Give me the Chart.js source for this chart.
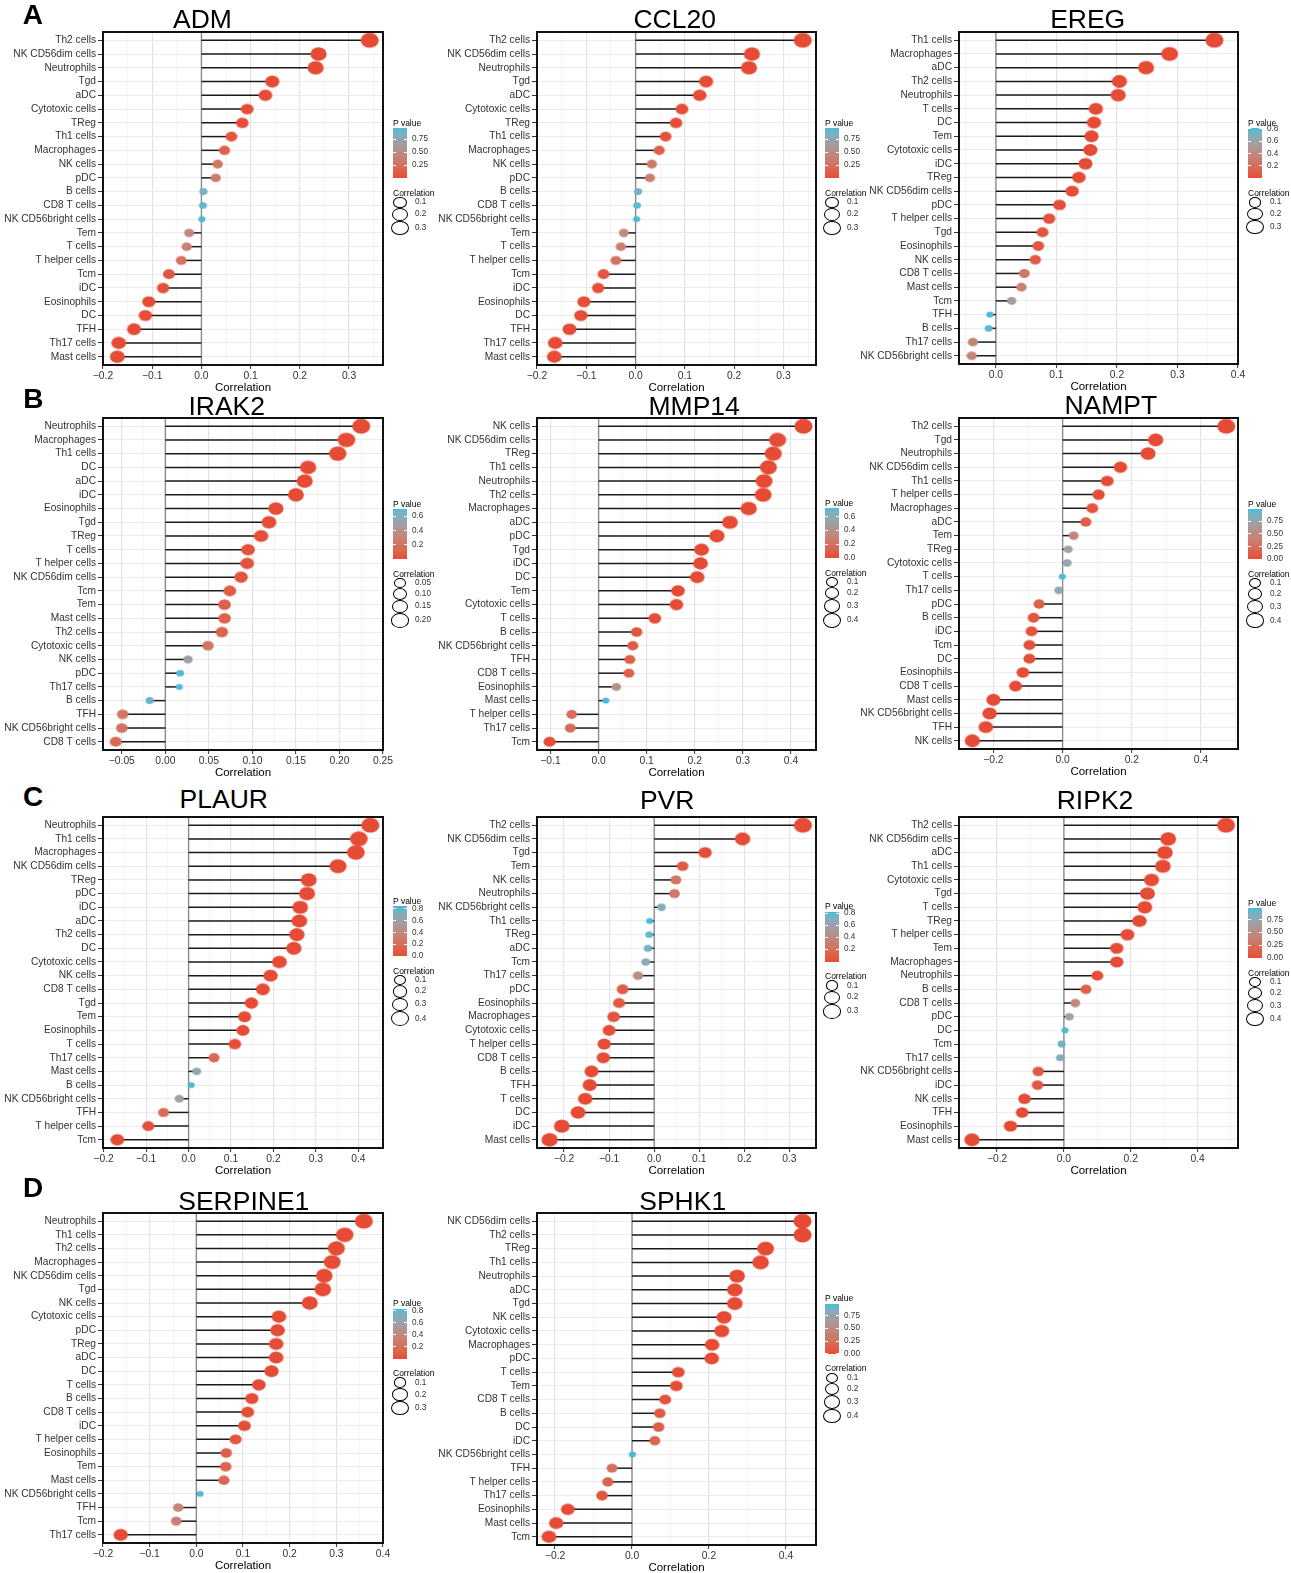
<!DOCTYPE html>
<html>
<head>
<meta charset="utf-8">
<script src="https://cdn.jsdelivr.net/npm/chart.js@4.4.1/dist/chart.umd.min.js"></script>
<style>
  body { margin: 0; background: #fff; }
  #fig { position: relative; width: 1291px; height: 1573px; overflow: hidden; font-family: 'Liberation Sans', Arial, Helvetica, sans-serif; }
  .t { position: absolute; line-height: 1; white-space: nowrap; }
</style>
</head>
<body>
<div id="fig"></div>
<script>
// ---- data: cell types (top to bottom), correlation, p value, axis ticks ----
const admCells = ['Th2 cells', 'NK CD56dim cells', 'Neutrophils', 'Tgd', 'aDC', 'Cytotoxic cells', 'TReg', 'Th1 cells', 'Macrophages', 'NK cells', 'pDC', 'B cells', 'CD8 T cells', 'NK CD56bright cells', 'Tem', 'T cells', 'T helper cells', 'Tcm', 'iDC', 'Eosinophils', 'DC', 'TFH', 'Th17 cells', 'Mast cells'];
const admCorr = [0.342, 0.238, 0.232, 0.144, 0.130, 0.093, 0.083, 0.061, 0.047, 0.033, 0.029, 0.004, 0.003, 0.001, -0.025, -0.030, -0.041, -0.066, -0.078, -0.107, -0.114, -0.137, -0.168, -0.171];
const admP = [0, 0, 0, 0.0001, 0.0005, 0.004, 0.01, 0.05, 0.13, 0.3, 0.36, 0.88, 0.92, 0.96, 0.45, 0.38, 0.27, 0.07, 0.04, 0.006, 0.004, 0.0008, 0, 0];

const ccl20Cells = admCells;
const ccl20Corr = [0.339, 0.236, 0.230, 0.143, 0.130, 0.094, 0.082, 0.061, 0.048, 0.033, 0.029, 0.005, 0.003, 0.002, -0.024, -0.030, -0.040, -0.065, -0.076, -0.105, -0.111, -0.134, -0.163, -0.165];
const ccl20P = [0, 0, 0, 0.0001, 0.0005, 0.004, 0.01, 0.05, 0.12, 0.3, 0.36, 0.87, 0.92, 0.96, 0.46, 0.38, 0.28, 0.07, 0.04, 0.006, 0.004, 0.0008, 0, 0];

const eregCells = ['Th1 cells', 'Macrophages', 'aDC', 'Th2 cells', 'Neutrophils', 'T cells', 'DC', 'Tem', 'Cytotoxic cells', 'iDC', 'TReg', 'NK CD56dim cells', 'pDC', 'T helper cells', 'Tgd', 'Eosinophils', 'NK cells', 'CD8 T cells', 'Mast cells', 'Tcm', 'TFH', 'B cells', 'Th17 cells', 'NK CD56bright cells'];
const eregCorr = [0.361, 0.287, 0.248, 0.204, 0.202, 0.165, 0.162, 0.158, 0.156, 0.148, 0.137, 0.126, 0.105, 0.088, 0.077, 0.070, 0.065, 0.047, 0.042, 0.026, -0.010, -0.012, -0.038, -0.040];
const eregP = [0, 0, 0, 0, 0, 0.0002, 0.0003, 0.0004, 0.0005, 0.001, 0.002, 0.005, 0.02, 0.04, 0.05, 0.07, 0.09, 0.26, 0.31, 0.55, 0.81, 0.79, 0.36, 0.34];

const irak2Cells = ['Neutrophils', 'Macrophages', 'Th1 cells', 'DC', 'aDC', 'iDC', 'Eosinophils', 'Tgd', 'TReg', 'T cells', 'T helper cells', 'NK CD56dim cells', 'Tcm', 'Tem', 'Mast cells', 'Th2 cells', 'Cytotoxic cells', 'NK cells', 'pDC', 'Th17 cells', 'B cells', 'TFH', 'NK CD56bright cells', 'CD8 T cells'];
const irak2Corr = [0.225, 0.208, 0.198, 0.164, 0.160, 0.150, 0.127, 0.119, 0.110, 0.095, 0.094, 0.087, 0.074, 0.068, 0.068, 0.065, 0.049, 0.026, 0.017, 0.016, -0.018, -0.049, -0.050, -0.057];
const irak2P = [0, 0, 0, 0.0002, 0.0003, 0.0006, 0.004, 0.007, 0.012, 0.03, 0.03, 0.045, 0.08, 0.1, 0.1, 0.11, 0.21, 0.5, 0.69, 0.70, 0.66, 0.21, 0.2, 0.15];

const mmp14Cells = ['NK cells', 'NK CD56dim cells', 'TReg', 'Th1 cells', 'Neutrophils', 'Th2 cells', 'Macrophages', 'aDC', 'pDC', 'Tgd', 'iDC', 'DC', 'Tem', 'Cytotoxic cells', 'T cells', 'B cells', 'NK CD56bright cells', 'TFH', 'CD8 T cells', 'Eosinophils', 'Mast cells', 'T helper cells', 'Th17 cells', 'Tcm'];
const mmp14Corr = [0.426, 0.372, 0.363, 0.353, 0.344, 0.342, 0.312, 0.273, 0.246, 0.214, 0.212, 0.205, 0.165, 0.162, 0.117, 0.079, 0.071, 0.065, 0.063, 0.037, 0.015, -0.056, -0.059, -0.102];
const mmp14P = [0, 0, 0, 0, 0, 0, 0, 0, 0, 0, 0, 0, 0.0002, 0.0003, 0.007, 0.05, 0.08, 0.09, 0.09, 0.4, 0.72, 0.17, 0.16, 0.01];

const namptCells = ['Th2 cells', 'Tgd', 'Neutrophils', 'NK CD56dim cells', 'Th1 cells', 'T helper cells', 'Macrophages', 'aDC', 'Tem', 'TReg', 'Cytotoxic cells', 'T cells', 'Th17 cells', 'pDC', 'B cells', 'iDC', 'Tcm', 'DC', 'Eosinophils', 'CD8 T cells', 'Mast cells', 'NK CD56bright cells', 'TFH', 'NK cells'];
const namptCorr = [0.473, 0.269, 0.247, 0.167, 0.129, 0.104, 0.086, 0.067, 0.032, 0.016, 0.013, -0.001, -0.011, -0.068, -0.084, -0.090, -0.096, -0.096, -0.115, -0.136, -0.200, -0.211, -0.222, -0.261];
const namptP = [0, 0, 0, 0, 0.003, 0.02, 0.05, 0.12, 0.45, 0.72, 0.77, 0.99, 0.81, 0.13, 0.06, 0.04, 0.03, 0.03, 0.01, 0.002, 0, 0, 0, 0];

const plaurCells = ['Neutrophils', 'Th1 cells', 'Macrophages', 'NK CD56dim cells', 'TReg', 'pDC', 'iDC', 'aDC', 'Th2 cells', 'DC', 'Cytotoxic cells', 'NK cells', 'CD8 T cells', 'Tgd', 'Tem', 'Eosinophils', 'T cells', 'Th17 cells', 'Mast cells', 'B cells', 'NK CD56bright cells', 'TFH', 'T helper cells', 'Tcm'];
const plaurCorr = [0.428, 0.401, 0.394, 0.352, 0.283, 0.279, 0.263, 0.261, 0.255, 0.248, 0.214, 0.193, 0.175, 0.148, 0.132, 0.128, 0.109, 0.060, 0.019, 0.006, -0.022, -0.059, -0.095, -0.168];
const plaurP = [0, 0, 0, 0, 0, 0, 0, 0, 0, 0, 0, 0, 0, 0.0005, 0.002, 0.003, 0.01, 0.17, 0.66, 0.845, 0.62, 0.18, 0.03, 0];

const pvrCells = ['Th2 cells', 'NK CD56dim cells', 'Tgd', 'Tem', 'NK cells', 'Neutrophils', 'NK CD56bright cells', 'Th1 cells', 'TReg', 'aDC', 'Tcm', 'Th17 cells', 'pDC', 'Eosinophils', 'Macrophages', 'Cytotoxic cells', 'T helper cells', 'CD8 T cells', 'B cells', 'TFH', 'T cells', 'DC', 'iDC', 'Mast cells'];
const pvrCorr = [0.330, 0.196, 0.113, 0.063, 0.048, 0.045, 0.016, -0.010, -0.011, -0.014, -0.019, -0.036, -0.070, -0.078, -0.090, -0.100, -0.111, -0.113, -0.139, -0.143, -0.153, -0.169, -0.205, -0.232];
const pvrP = [0, 0, 0.009, 0.08, 0.25, 0.27, 0.7, 0.83, 0.8, 0.75, 0.67, 0.42, 0.1, 0.07, 0.04, 0.02, 0.01, 0.01, 0.001, 0.001, 0.0005, 0.0001, 0, 0];

const ripk2Cells = ['Th2 cells', 'NK CD56dim cells', 'aDC', 'Th1 cells', 'Cytotoxic cells', 'Tgd', 'T cells', 'TReg', 'T helper cells', 'Tem', 'Macrophages', 'Neutrophils', 'B cells', 'CD8 T cells', 'pDC', 'DC', 'Tcm', 'Th17 cells', 'NK CD56bright cells', 'iDC', 'NK cells', 'TFH', 'Eosinophils', 'Mast cells'];
const ripk2Corr = [0.485, 0.312, 0.302, 0.296, 0.262, 0.250, 0.242, 0.226, 0.190, 0.158, 0.158, 0.100, 0.066, 0.034, 0.016, 0.003, -0.007, -0.011, -0.077, -0.079, -0.118, -0.125, -0.160, -0.275];
const ripk2P = [0, 0, 0, 0, 0, 0, 0, 0, 0, 0.0003, 0.0003, 0.02, 0.13, 0.45, 0.72, 0.97, 0.86, 0.8, 0.08, 0.08, 0.008, 0.005, 0.0003, 0];

const serpine1Cells = ['Neutrophils', 'Th1 cells', 'Th2 cells', 'Macrophages', 'NK CD56dim cells', 'Tgd', 'NK cells', 'Cytotoxic cells', 'pDC', 'TReg', 'aDC', 'DC', 'T cells', 'B cells', 'CD8 T cells', 'iDC', 'T helper cells', 'Eosinophils', 'Tem', 'Mast cells', 'NK CD56bright cells', 'TFH', 'Tcm', 'Th17 cells'];
const serpine1Corr = [0.359, 0.318, 0.300, 0.291, 0.274, 0.271, 0.243, 0.177, 0.174, 0.171, 0.171, 0.161, 0.134, 0.119, 0.110, 0.103, 0.084, 0.064, 0.063, 0.059, 0.008, -0.039, -0.043, -0.162];
const serpine1P = [0, 0, 0, 0, 0, 0, 0, 0, 0, 0, 0, 0, 0.002, 0.007, 0.012, 0.02, 0.06, 0.12, 0.13, 0.15, 0.83, 0.36, 0.32, 0];

const sphk1Cells = ['NK CD56dim cells', 'Th2 cells', 'TReg', 'Th1 cells', 'Neutrophils', 'aDC', 'Tgd', 'NK cells', 'Cytotoxic cells', 'Macrophages', 'pDC', 'T cells', 'Tem', 'CD8 T cells', 'B cells', 'DC', 'iDC', 'NK CD56bright cells', 'TFH', 'T helper cells', 'Th17 cells', 'Eosinophils', 'Mast cells', 'Tcm'];
const sphk1Corr = [0.443, 0.443, 0.347, 0.334, 0.273, 0.267, 0.267, 0.239, 0.233, 0.208, 0.207, 0.120, 0.115, 0.086, 0.072, 0.069, 0.059, 0.001, -0.052, -0.063, -0.078, -0.167, -0.197, -0.216];
const sphk1P = [0, 0, 0, 0, 0, 0, 0, 0, 0, 0, 0, 0.007, 0.009, 0.05, 0.1, 0.12, 0.17, 0.98, 0.25, 0.16, 0.08, 0, 0, 0];

// x axis breaks, P value colourbar breaks, size legend breaks
const ticksA = [-0.2, -0.1, 0, 0.1, 0.2, 0.3];
const ticksEreg = [0, 0.1, 0.2, 0.3, 0.4];
const ticksIrak2 = [-0.05, 0, 0.05, 0.1, 0.15, 0.2, 0.25];
const ticksMmp14 = [-0.1, 0, 0.1, 0.2, 0.3, 0.4];
const ticksWide = [-0.2, 0, 0.2, 0.4];
const ticksB = [-0.2, -0.1, 0, 0.1, 0.2, 0.3, 0.4];
const pBreaksQuarter = [0.25, 0.5, 0.75];
const pBreaksQuarter0 = [0, 0.25, 0.5, 0.75];
const pBreaksFifth = [0.2, 0.4, 0.6, 0.8];
const pBreaksFifth0 = [0, 0.2, 0.4, 0.6, 0.8];
const pBreaksIrak2 = [0.2, 0.4, 0.6];
const pBreaksMmp14 = [0, 0.2, 0.4, 0.6];
const sizeBreaks3 = [0.1, 0.2, 0.3];
const sizeBreaks4 = [0.1, 0.2, 0.3, 0.4];
const sizeBreaksIrak2 = [0.05, 0.1, 0.15, 0.2];

const panels = [
  { gene: 'ADM', cells: admCells, corr: admCorr, p: admP, ticks: ticksA, pBreaks: pBreaksQuarter, sizeBreaks: sizeBreaks3 },
  { gene: 'CCL20', cells: ccl20Cells, corr: ccl20Corr, p: ccl20P, ticks: ticksA, pBreaks: pBreaksQuarter, sizeBreaks: sizeBreaks3 },
  { gene: 'EREG', cells: eregCells, corr: eregCorr, p: eregP, ticks: ticksEreg, pBreaks: pBreaksFifth, sizeBreaks: sizeBreaks3 },
  { gene: 'IRAK2', cells: irak2Cells, corr: irak2Corr, p: irak2P, ticks: ticksIrak2, pBreaks: pBreaksIrak2, sizeBreaks: sizeBreaksIrak2 },
  { gene: 'MMP14', cells: mmp14Cells, corr: mmp14Corr, p: mmp14P, ticks: ticksMmp14, pBreaks: pBreaksMmp14, sizeBreaks: sizeBreaks4 },
  { gene: 'NAMPT', cells: namptCells, corr: namptCorr, p: namptP, ticks: ticksWide, pBreaks: pBreaksQuarter0, sizeBreaks: sizeBreaks4 },
  { gene: 'PLAUR', cells: plaurCells, corr: plaurCorr, p: plaurP, ticks: ticksB, pBreaks: pBreaksFifth0, sizeBreaks: sizeBreaks4 },
  { gene: 'PVR', cells: pvrCells, corr: pvrCorr, p: pvrP, ticks: ticksA, pBreaks: pBreaksFifth, sizeBreaks: sizeBreaks3 },
  { gene: 'RIPK2', cells: ripk2Cells, corr: ripk2Corr, p: ripk2P, ticks: ticksWide, pBreaks: pBreaksQuarter0, sizeBreaks: sizeBreaks4 },
  { gene: 'SERPINE1', cells: serpine1Cells, corr: serpine1Corr, p: serpine1P, ticks: ticksB, pBreaks: pBreaksFifth, sizeBreaks: sizeBreaks3 },
  { gene: 'SPHK1', cells: sphk1Cells, corr: sphk1Corr, p: sphk1P, ticks: ticksWide, pBreaks: pBreaksQuarter0, sizeBreaks: sizeBreaks4 }
];

// ---- layout (page pixels) ----
const layout = {
  ADM:      { box: [103, 32, 383, 365],    range: [-0.2, 0.369],    title: [202.5, 18.7],  legend: [393, 122.7] },
  CCL20:    { box: [537, 32, 816, 365],    range: [-0.2, 0.366],    title: [674.7, 18.7],  legend: [825, 122.7] },
  EREG:     { box: [959, 32, 1238, 364],   range: [-0.061, 0.4],    title: [1087.7, 19],   legend: [1248, 122.7] },
  IRAK2:    { box: [103, 418, 383, 750],   range: [-0.0716, 0.25],  title: [226.7, 405.8], legend: [393, 503.7] },
  MMP14:    { box: [537, 418, 816, 750],   range: [-0.128, 0.452],  title: [694.2, 405.8], legend: [825, 502.7] },
  NAMPT:    { box: [959, 418, 1238, 749],  range: [-0.2995, 0.507], title: [1110.8, 405],  legend: [1248, 503.7] },
  PLAUR:    { box: [103, 817, 383, 1148],  range: [-0.2016, 0.458], title: [223.8, 799.3], legend: [393, 900.7] },
  PVR:      { box: [537, 817, 816, 1148],  range: [-0.26, 0.359],   title: [667.2, 799.7], legend: [825, 906] },
  RIPK2:    { box: [959, 817, 1238, 1148], range: [-0.314, 0.521],  title: [1095, 799.7],  legend: [1248, 902.7] },
  SERPINE1: { box: [103, 1213, 383, 1543], range: [-0.2, 0.4],      title: [243.8, 1200.8], legend: [393, 1303.3] },
  SPHK1:    { box: [537, 1213, 816, 1545], range: [-0.247, 0.478],  title: [682.7, 1200.8], legend: [825, 1298.3] }
};
const letters = [['A', 22.7, 15], ['B', 23.3, 399], ['C', 23, 797], ['D', 23, 1187.5]];

const FONT = "'Liberation Sans', Arial, Helvetica, sans-serif";
const YW = 103, XH = 31, PT = 3, PR = 14;
const R0 = 3.3, R1 = 8.3, SX = 1.09, SY = 0.91;
const LOW = '#E64B35', HIGH = '#4DBBD5';
const fig = document.getElementById('fig');

// colour ramp in CIELAB like ggplot's gradient
function toLab(hex) {
  const c = [1, 3, 5].map((i) => parseInt(hex.slice(i, i + 2), 16) / 255)
    .map((v) => (v <= 0.04045 ? v / 12.92 : Math.pow((v + 0.055) / 1.055, 2.4)));
  const X = (0.4124 * c[0] + 0.3576 * c[1] + 0.1805 * c[2]) / 0.95047;
  const Y = 0.2126 * c[0] + 0.7152 * c[1] + 0.0722 * c[2];
  const Z = (0.0193 * c[0] + 0.1192 * c[1] + 0.9505 * c[2]) / 1.08883;
  const f = (t) => (t > 0.008856 ? Math.cbrt(t) : 7.787 * t + 16 / 116);
  return [116 * f(Y) - 16, 500 * (f(X) - f(Y)), 200 * (f(Y) - f(Z))];
}
function fromLab([L, a, b]) {
  const fy = (L + 16) / 116, fx = fy + a / 500, fz = fy - b / 200;
  const inv = (t) => (t * t * t > 0.008856 ? t * t * t : (t - 16 / 116) / 7.787);
  const X = inv(fx) * 0.95047, Y = inv(fy), Z = inv(fz) * 1.08883;
  const lin = [3.2406 * X - 1.5372 * Y - 0.4986 * Z, -0.9689 * X + 1.8758 * Y + 0.0415 * Z, 0.0557 * X - 0.2040 * Y + 1.0570 * Z];
  return 'rgb(' + lin.map((v) => {
    v = v <= 0.0031308 ? 12.92 * v : 1.055 * Math.pow(v, 1 / 2.4) - 0.055;
    return Math.round(Math.min(1, Math.max(0, v)) * 255);
  }).join(',') + ')';
}
const lowLab = toLab(LOW), highLab = toLab(HIGH);
const ramp = (t) => fromLab(lowLab.map((v, i) => v + (highLab[i] - v) * t));

function fmt(v, dec) {
  return v.toFixed(dec).replace('-', '\u2212');
}
function decimals(list) {
  return list.some((v) => Math.abs(v * 10 - Math.round(v * 10)) > 1e-6) ? 2 : 1;
}

function label(str, x, y, size, color, center) {
  const d = document.createElement('div');
  d.className = 't';
  d.textContent = str;
  d.style.cssText += `left:${x}px;top:${y}px;font-size:${size}px;color:${color};transform:translate(${center ? '-50%' : '0'},-50%);`;
  fig.appendChild(d);
  return d;
}

// slightly wide dot, as in the stretched original figure
function dotSprite(r, color) {
  const rx = r * SX, ry = r * SY;
  const c = document.createElement('canvas');
  c.width = Math.ceil(rx * 2) + 2;
  c.height = Math.ceil(ry * 2) + 2;
  const g = c.getContext('2d');
  g.fillStyle = color;
  g.beginPath();
  g.ellipse(c.width / 2, c.height / 2, rx, ry, 0, 0, Math.PI * 2);
  g.fill();
  return c;
}

const lollipop = {
  id: 'lollipop',
  beforeDatasetsDraw(chart) {
    const { ctx, chartArea: a, scales: { x, y } } = chart;
    const x0 = x.getPixelForValue(0);
    ctx.save();
    ctx.strokeStyle = '#8a8484';
    ctx.lineWidth = 1.3;
    ctx.beginPath();
    ctx.moveTo(x0, a.top);
    ctx.lineTo(x0, a.bottom);
    ctx.stroke();
    ctx.strokeStyle = '#1a1a1a';
    ctx.lineWidth = 1.5;
    chart.data.datasets[0].data.forEach((d) => {
      const py = y.getPixelForValue(d.y);
      ctx.beginPath();
      ctx.moveTo(x0, py);
      ctx.lineTo(x.getPixelForValue(d.x), py);
      ctx.stroke();
    });
    ctx.restore();
  },
  afterDraw(chart) {
    const { ctx, chartArea: a } = chart;
    ctx.save();
    ctx.strokeStyle = '#111';
    ctx.lineWidth = 2;
    ctx.strokeRect(a.left, a.top, a.right - a.left, a.bottom - a.top);
    ctx.restore();
  }
};

function drawPanel(panel) {
  const geo = layout[panel.gene];
  const [L, T, R, B] = geo.box;
  const n = panel.cells.length;
  const absC = panel.corr.map(Math.abs);
  const cLo = Math.min(...absC), cHi = Math.max(...absC);
  const radius = (v) => R0 + (R1 - R0) * Math.sqrt(Math.max(0, (Math.abs(v) - cLo) / (cHi - cLo)));
  const pLo = Math.min(...panel.p), pHi = Math.max(...panel.p);
  const pFrac = (v) => (v - pLo) / (pHi - pLo);

  const canvas = document.createElement('canvas');
  const w = YW + (R - L) + PR, h = PT + (B - T) + XH;
  canvas.width = w;
  canvas.height = h;
  canvas.style.cssText = `position:absolute;left:${L - YW}px;top:${T - PT}px;width:${w}px;height:${h}px;`;
  fig.appendChild(canvas);

  const step = panel.ticks[1] - panel.ticks[0];
  const dec = decimals(panel.ticks);
  const [xmin, xmax] = geo.range;
  const colors = panel.p.map((v) => ramp(pFrac(v)));

  new Chart(canvas, {
    type: 'bubble',
    data: {
      datasets: [{
        data: panel.corr.map((c, i) => ({ x: c, y: i, r: radius(c) })),
        backgroundColor: colors,
        pointStyle: panel.corr.map((c, i) => dotSprite(radius(c), colors[i])),
        borderWidth: 0,
        hoverBorderWidth: 0,
        hoverRadius: 0
      }]
    },
    options: {
      responsive: false,
      animation: false,
      devicePixelRatio: 1,
      events: [],
      layout: { autoPadding: false, padding: { left: 0, top: PT, right: PR, bottom: 0 } },
      plugins: { legend: { display: false }, tooltip: { enabled: false } },
      scales: {
        x: {
          type: 'linear',
          min: xmin,
          max: xmax,
          afterBuildTicks: (s) => {
            const list = panel.ticks.map((v) => ({ value: v }));
            const mids = [panel.ticks[0] - step / 2];
            panel.ticks.forEach((v) => mids.push(v + step / 2));
            mids.forEach((v) => list.push({ value: v, minor: true }));
            s.ticks = list.filter((t) => t.value >= xmin - 1e-9 && t.value <= xmax + 1e-9)
              .sort((a, b) => a.value - b.value);
          },
          afterFit: (s) => { s.height = XH; s.paddingLeft = 0; s.paddingRight = 0; },
          border: { display: false },
          grid: {
            color: (c) => (c.tick && c.tick.minor ? '#f1f1f1' : '#e4e4e4'),
            lineWidth: (c) => (c.tick && c.tick.minor ? 0.7 : 1.2),
            tickColor: (c) => (c.tick && c.tick.minor ? 'rgba(0,0,0,0)' : '#333'),
            tickLength: 4,
            tickWidth: 1
          },
          ticks: {
            autoSkip: false,
            maxRotation: 0,
            padding: 1,
            color: '#333',
            font: { family: FONT, size: 10.3 },
            callback: (v, i, ts) => (ts[i].minor ? '' : fmt(v, dec))
          },
          title: {
            display: true,
            text: 'Correlation',
            color: '#000',
            padding: { top: 0, bottom: 1 },
            font: { family: FONT, size: 11.5 }
          }
        },
        y: {
          type: 'linear',
          reverse: true,
          min: -0.6,
          max: n - 0.4,
          afterBuildTicks: (s) => { s.ticks = panel.cells.map((_, i) => ({ value: i })); },
          afterFit: (s) => { s.width = YW; s.paddingTop = 0; s.paddingBottom = 0; },
          border: { display: false },
          grid: { color: '#ebebeb', lineWidth: 1, tickColor: '#333', tickLength: 5, tickWidth: 1 },
          ticks: {
            autoSkip: false,
            padding: 2,
            color: '#333',
            font: { family: FONT, size: 10.2 },
            callback: (v) => panel.cells[Math.round(v)]
          }
        }
      }
    },
    plugins: [lollipop]
  });

  // title
  label(panel.gene, geo.title[0], geo.title[1], 26.5, '#000', true);

  // legend: P value colourbar
  const [lx, ly] = geo.legend;
  label('P value', lx, ly, 8.5, '#000', false);
  const barTop = ly + 5.5, barH = 50, barW = 14;
  const stops = [];
  for (let i = 0; i <= 20; i++) stops.push(`${ramp(i / 20)} ${i * 5}%`);
  const bar = document.createElement('div');
  bar.style.cssText = `position:absolute;left:${lx}px;top:${barTop}px;width:${barW}px;height:${barH}px;background:linear-gradient(to top, ${stops.join(',')});`;
  fig.appendChild(bar);
  const pdec = panel.pBreaks.some((v) => Math.abs(v * 10 - Math.round(v * 10)) > 1e-6) ? 2 : 1;
  panel.pBreaks.forEach((v) => {
    const f = pFrac(v);
    if (f < -1e-6 || f > 1 + 1e-6) return;
    const yy = barTop + (1 - f) * barH;
    [0, barW - 3].forEach((dx) => {
      const m = document.createElement('div');
      m.style.cssText = `position:absolute;left:${lx + dx}px;top:${yy - 0.5}px;width:3px;height:1px;background:#fff;`;
      fig.appendChild(m);
    });
    label(fmt(v, pdec), lx + 19, yy, 8.2, '#333', false);
  });

  // legend: correlation sizes
  const cy0 = barTop + barH + 14.5;
  label('Correlation', lx, cy0, 8.5, '#000', false);
  const sdec = decimals(panel.sizeBreaks);
  let cy = cy0 + 9.5, prevD = null;
  panel.sizeBreaks.forEach((v) => {
    const d = 2 * radius(v);
    if (prevD !== null) cy += (prevD + d) / 2 * SY;
    const cw = d * SX, ch = d * SY;
    const c = document.createElement('div');
    c.style.cssText = `position:absolute;left:${lx + 7 - cw / 2}px;top:${cy - ch / 2}px;width:${cw}px;height:${ch}px;box-sizing:border-box;border:1.4px solid #000;border-radius:50%;`;
    fig.appendChild(c);
    label(fmt(v, sdec), lx + 22, cy, 8.2, '#333', false);
    prevD = d;
  });
}

panels.forEach(drawPanel);
letters.forEach(([s, x, y]) => {
  const d = label(s, x, y, 28, '#000', false);
  d.style.fontWeight = 'bold';
});
</script>
</body>
</html>
